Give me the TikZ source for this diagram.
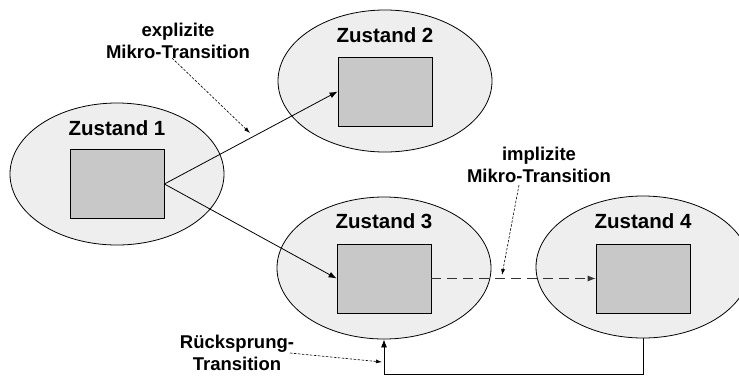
\documentclass[tikz,border=0pt]{standalone}
\usepackage{fontspec}
\setmainfont{Liberation Sans}
\usetikzlibrary{shapes.geometric,arrows.meta}

\definecolor{statefill}{HTML}{EEEEEE}
\definecolor{boxfill}{HTML}{C8C8C8}

\tikzset{
  state/.style={ellipse, draw=black, line width=0.8pt, fill=statefill,
    minimum width=214pt, minimum height=142pt, inner sep=0pt},
  inner/.style={rectangle, draw=black, line width=0.8pt, fill=boxfill,
    minimum width=94pt, minimum height=69pt, inner sep=0pt},
  statelabel/.style={anchor=base, inner sep=0pt,
    font=\bfseries\fontsize{20.5}{24}\selectfont},
  note/.style={align=center, inner sep=0pt,
    font=\bfseries\fontsize{18.5}{22}\selectfont},
  trans/.style={line width=0.8pt, -{Latex[length=8pt,width=6pt]}},
  impl/.style={trans, draw=black!80, dash pattern=on 10pt off 6pt},
  back/.style={line width=0.8pt, -{Latex[length=8pt,width=6pt]}},
  pointer/.style={line width=0.6pt, dash pattern=on 2.5pt off 1.5pt,
    -{Latex[length=6pt,width=4pt]}}
}

\begin{document}
\begin{tikzpicture}[x=1pt,y=-1pt]
  \useasboundingbox (0,0) rectangle (739,376);

  % states
  \node[state] (e1) at (117,174) {};
  \node[state] (e2) at (385,81) {};
  \node[state] (e3) at (384,268) {};
  \node[state] (e4) at (643,267) {};

  % state labels
  \node[statelabel] (l1) at (117,135) {Zustand 1};
  \node[statelabel] (l2) at (385,42) {Zustand 2};
  \node[statelabel] (l3) at (384,228) {Zustand 3};
  \node[statelabel] (l4) at (643,228) {Zustand 4};

  % inner boxes
  \node[inner] (r1) at (117,184) {};
  \node[inner] (r2) at (385,91.5) {};
  \node[inner] (r3) at (384,278.5) {};
  \node[inner] (r4) at (643,278.5) {};

  % transitions
  \draw[trans] (r1.east) -- (r2.west);
  \draw[trans] (r1.east) -- (r3.west);
  \draw[impl] (r3.east) -- (r4.west);
  \coordinate (c4) at (643,374);
  \draw[back] (e4.south) -- (c4) -| (e3.south);

  % annotations
  \node[note] (n1) at (178,41.2) {explizite\\Mikro-Transition};
  \node[note] (n2) at (539,165.2) {implizite\\Mikro-Transition};
  \node[note] (n3) at (237,353.2) {Rücksprung-\\Transition};

  \coordinate (p1s) at (172,58);
  \coordinate (p1e) at (250,133);
  \coordinate (p2s) at (519,185);
  \coordinate (p2e) at (502,275);
  \coordinate (p3s) at (290,353);
  \coordinate (p3e) at (382,362);
  \draw[pointer] (p1s) -- (p1e);
  \draw[pointer] (p2s) -- (p2e);
  \draw[pointer] (p3s) -- (p3e);
\end{tikzpicture}
\end{document}
